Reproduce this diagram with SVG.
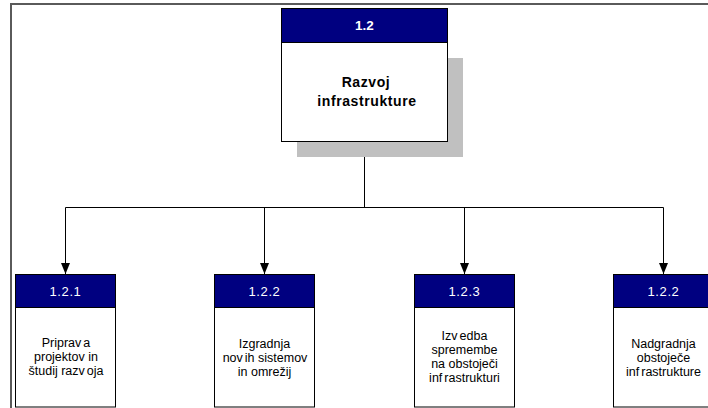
<svg xmlns="http://www.w3.org/2000/svg" width="708" height="408" viewBox="0 0 708 408">
<defs>
<style>
.frame{fill:none;stroke:#5a5a5a;stroke-width:2}
.box{fill:#fff;stroke:#000;stroke-width:1}
.hdr{fill:#000080;stroke:#000;stroke-width:1}
.shadow{fill:#c0c0c0}
.ht{font-family:"Liberation Sans",Arial,sans-serif;font-size:13px;fill:#fff;text-anchor:middle;letter-spacing:0.6px}
.htb{font-family:"Liberation Sans",Arial,sans-serif;font-size:13.5px;font-weight:bold;fill:#fff;text-anchor:middle}
.bt{font-family:"Liberation Sans",Arial,sans-serif;font-size:12.5px;fill:#000;text-anchor:middle}
.btb{font-family:"Liberation Sans",Arial,sans-serif;font-size:14px;font-weight:bold;fill:#000;text-anchor:middle;letter-spacing:0.6px}
.conn{fill:none;stroke:#000;stroke-width:1}
</style>
<marker id="arr" markerWidth="11" markerHeight="9" refX="11" refY="4.5" orient="auto" markerUnits="userSpaceOnUse" viewBox="0 0 11 9">
<path d="M0,0 L11,4.5 L0,9 Z" fill="#000"/>
</marker>
</defs>
<rect x="0" y="0" width="708" height="408" fill="#fff"/>
<rect class="frame" x="11" y="4" width="720" height="430"/>

<g id="connectors">
<path class="conn" d="M364.5,141 V207.5"/>
<path class="conn" d="M65.5,207.5 H663.5"/>
<path class="conn" d="M65.5,207.5 V274" marker-end="url(#arr)"/>
<path class="conn" d="M264.5,207.5 V274" marker-end="url(#arr)"/>
<path class="conn" d="M464.5,207.5 V274" marker-end="url(#arr)"/>
<path class="conn" d="M663.5,207.5 V274" marker-end="url(#arr)"/>
</g>

<g id="node-1-2">
<rect class="shadow" x="297" y="58" width="166" height="99"/>
<rect class="box" x="281.5" y="42.5" width="166" height="99"/>
<rect class="hdr" x="281.5" y="8.5" width="166" height="34"/>
<text class="htb" x="364.5" y="30">1.2</text>
<text class="btb" x="366" y="87">Razvoj</text>
<text class="btb" x="367" y="106">infrastrukture</text>
</g>

<g id="node-1-2-1">
<rect class="box" x="15.5" y="307" width="100" height="100"/>
<rect class="hdr" x="15.5" y="274.5" width="100" height="33"/>
<text class="ht" x="65.5" y="296">1.2.1</text>
<text class="bt" x="66" y="347">Priprav<tspan dx="2">a</tspan></text>
<text class="bt" x="66" y="361">projektov  in</text>
<text class="bt" x="66" y="375">študij razv<tspan dx="2">oja</tspan></text>
</g>

<g id="node-1-2-2a">
<rect class="box" x="214.5" y="307" width="100" height="100"/>
<rect class="hdr" x="214.5" y="274.5" width="100" height="33"/>
<text class="ht" x="264.5" y="296">1.2.2</text>
<text class="bt" x="264.5" y="348">Izgradnja</text>
<text class="bt" x="265" y="362">nov<tspan dx="2">ih</tspan> sistemov</text>
<text class="bt" x="264.5" y="376">in omrežij</text>
</g>

<g id="node-1-2-3">
<rect class="box" x="414.5" y="307" width="100" height="100"/>
<rect class="hdr" x="414.5" y="274.5" width="100" height="33"/>
<text class="ht" x="464.5" y="296">1.2.3</text>
<text class="bt" x="464.5" y="340">Izv<tspan dx="2">edba</tspan></text>
<text class="bt" x="464.5" y="354">spremembe</text>
<text class="bt" x="464.5" y="368">na obstoječi</text>
<text class="bt" x="464.5" y="382">inf<tspan dx="2">rastrukturi</tspan></text>
</g>

<g id="node-1-2-2b">
<rect class="box" x="613.5" y="307" width="100" height="100"/>
<rect class="hdr" x="613.5" y="274.5" width="100" height="33"/>
<text class="ht" x="663.5" y="296">1.2.2</text>
<text class="bt" x="663.5" y="348">Nadgradnja</text>
<text class="bt" x="663.5" y="362">obstoječe</text>
<text class="bt" x="663.5" y="376">inf<tspan dx="2">rastrukture</tspan></text>
</g>
</svg>
